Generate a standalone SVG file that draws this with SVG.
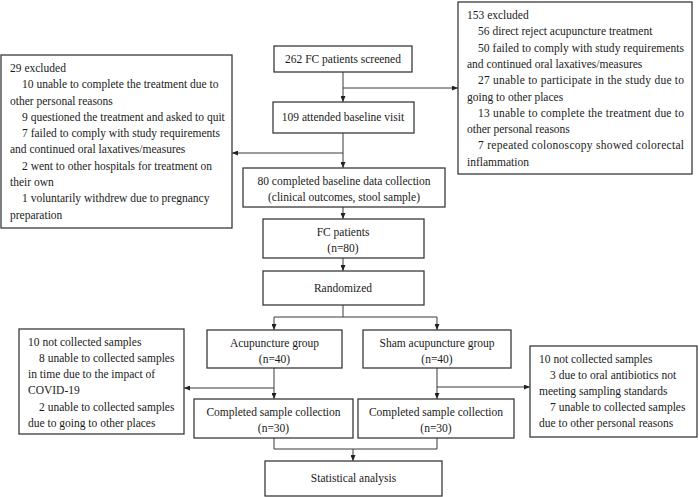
<svg xmlns="http://www.w3.org/2000/svg" width="699" height="497" viewBox="0 0 699 497">
<style>
.box{fill:#fff;stroke:#3a3a3a;stroke-width:1.3}
text{font-family:"Liberation Serif","Times New Roman",serif;font-size:11.5px;fill:#1a1a1a}
.c{text-anchor:middle}
.ln{fill:none;stroke:#3a3a3a;stroke-width:1}
</style>
<defs>
<marker id="ah" markerUnits="userSpaceOnUse" markerWidth="6" markerHeight="5" refX="6" refY="2.5" orient="auto">
<path d="M0,0 L6,2.5 L0,5 z" fill="#222"/>
</marker>
</defs>
<rect width="699" height="497" fill="#fff"/>
<g id="connectors">
<path class="ln" d="M343,72 V102" marker-end="url(#ah)"/>
<path class="ln" d="M343,88 H458" marker-end="url(#ah)"/>
<path class="ln" d="M343,133 V168" marker-end="url(#ah)"/>
<path class="ln" d="M343,153 H232" marker-end="url(#ah)"/>
<path class="ln" d="M343,207 V219" marker-end="url(#ah)"/>
<path class="ln" d="M343,258 V271" marker-end="url(#ah)"/>
<path class="ln" d="M343,305 V317 M274,317 H437"/>
<path class="ln" d="M274,317 V330" marker-end="url(#ah)"/>
<path class="ln" d="M437,317 V330" marker-end="url(#ah)"/>
<path class="ln" d="M274,368 V399" marker-end="url(#ah)"/>
<path class="ln" d="M274,388 H184" marker-end="url(#ah)"/>
<path class="ln" d="M437,368 V399" marker-end="url(#ah)"/>
<path class="ln" d="M437,387 H530" marker-end="url(#ah)"/>
<path class="ln" d="M274,438 V449 H437 V438"/>
<path class="ln" d="M353,449 V461" marker-end="url(#ah)"/>
</g>
<g id="screened">
<rect class="box" x="274" y="46" width="138" height="26"/>
<text class="c" x="343" y="63">262 FC patients screened</text>
</g>
<g id="excluded153">
<rect class="box" x="458" y="2" width="234" height="172"/>
<text x="467" y="19">153 excluded</text>
<text x="478" y="35">56 direct reject acupuncture treatment</text>
<text x="478" y="52" textLength="206" lengthAdjust="spacing">50 failed to comply with study requirements</text>
<text x="467" y="68">and continued oral laxatives/measures</text>
<text x="478" y="84" textLength="206" lengthAdjust="spacing">27 unable to participate in the study due to</text>
<text x="467" y="101">going to other places</text>
<text x="478" y="117" textLength="206" lengthAdjust="spacing">13 unable to complete the treatment due to</text>
<text x="467" y="133">other personal reasons</text>
<text x="478" y="149" textLength="206" lengthAdjust="spacing">7 repeated colonoscopy showed colorectal</text>
<text x="467" y="166">inflammation</text>
</g>
<g id="baseline">
<rect class="box" x="273" y="102" width="141" height="31"/>
<text class="c" x="343" y="121">109 attended baseline visit</text>
</g>
<g id="excluded29">
<rect class="box" x="1" y="55" width="231" height="173"/>
<text x="10" y="72">29 excluded</text>
<text x="22" y="88">10 unable to complete the treatment due to</text>
<text x="10" y="105">other personal reasons</text>
<text x="22" y="121">9 questioned the treatment and asked to quit</text>
<text x="22" y="137">7 failed to comply with study requirements</text>
<text x="10" y="153">and continued oral laxatives/measures</text>
<text x="22" y="170">2 went to other hospitals for treatment on</text>
<text x="10" y="186">their own</text>
<text x="22" y="202">1 voluntarily withdrew due to pregnancy</text>
<text x="10" y="219">preparation</text>
</g>
<g id="collection80">
<rect class="box" x="243" y="168" width="202" height="39"/>
<text class="c" x="344" y="185">80 completed baseline data collection</text>
<text class="c" x="344" y="201">(clinical outcomes, stool sample)</text>
</g>
<g id="fcpatients">
<rect class="box" x="263" y="219" width="161" height="39"/>
<text class="c" x="343" y="236">FC patients</text>
<text class="c" x="343" y="252">(n=80)</text>
</g>
<g id="randomized">
<rect class="box" x="263" y="271" width="161" height="34"/>
<text class="c" x="343" y="292">Randomized</text>
</g>
<g id="acupuncture">
<rect class="box" x="207" y="330" width="135" height="38"/>
<text class="c" x="274.5" y="347">Acupuncture group</text>
<text class="c" x="274.5" y="363">(n=40)</text>
</g>
<g id="sham">
<rect class="box" x="363" y="330" width="148" height="38"/>
<text class="c" x="437" y="347">Sham acupuncture group</text>
<text class="c" x="437" y="363">(n=40)</text>
</g>
<g id="notcollected-left">
<rect class="box" x="19" y="329" width="165" height="105"/>
<text x="28" y="346">10 not collected samples</text>
<text x="39" y="362">8 unable to collected samples</text>
<text x="28" y="378">in time due to the impact of</text>
<text x="28" y="394">COVID-19</text>
<text x="39" y="411">2 unable to collected samples</text>
<text x="28" y="427">due to going to other places</text>
</g>
<g id="notcollected-right">
<rect class="box" x="530" y="346" width="167" height="91"/>
<text x="539" y="363">10 not collected samples</text>
<text x="550" y="379">3 due to oral antibiotics not</text>
<text x="539" y="395">meeting sampling standards</text>
<text x="550" y="411">7 unable to collected samples</text>
<text x="539" y="427">due to other personal reasons</text>
</g>
<g id="completed-left">
<rect class="box" x="194" y="399" width="159" height="39"/>
<text class="c" x="273.5" y="416">Completed sample collection</text>
<text class="c" x="273.5" y="432">(n=30)</text>
</g>
<g id="completed-right">
<rect class="box" x="358" y="399" width="156" height="39"/>
<text class="c" x="436" y="416">Completed sample collection</text>
<text class="c" x="436" y="432">(n=30)</text>
</g>
<g id="statistical">
<rect class="box" x="265" y="461" width="177" height="35"/>
<text class="c" x="353.5" y="482">Statistical analysis</text>
</g>
</svg>
